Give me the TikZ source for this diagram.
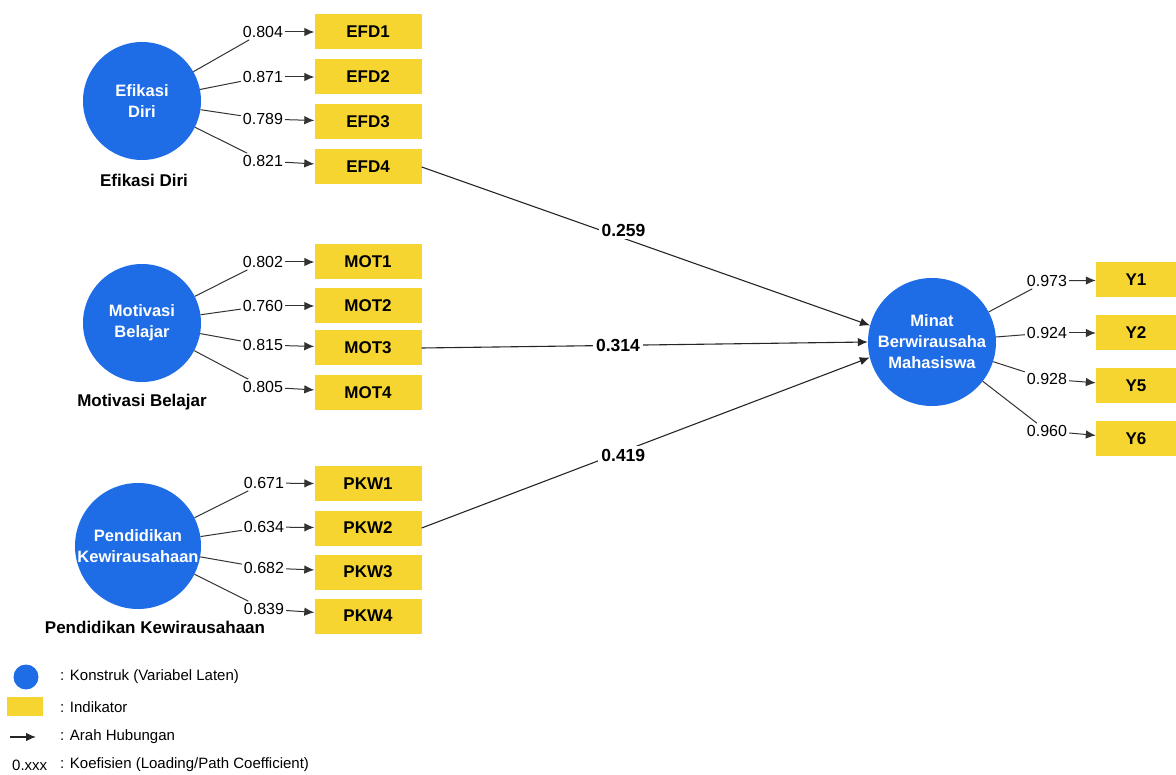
\documentclass[tikz,border=0pt]{standalone}
\usepackage{fontspec}
\setmainfont{Liberation Sans}
\usetikzlibrary{arrows.meta}
\definecolor{construct}{RGB}{30,108,230}
\definecolor{indicator}{RGB}{247,213,48}

\begin{document}
\begin{tikzpicture}[x=1pt,y=-1pt]
		\useasboundingbox[fill=white] (0,0) rectangle (1176,775);

		\begin{scope}[every node/.style={circle,fill=construct,text=white,align=center,inner sep=0pt,
		              font=\bfseries\fontsize{16.5}{21}\selectfont}]
			\node[minimum size=118pt] (efd) at (142,101) {Efikasi\\Diri};
			\node[minimum size=118pt] (mot) at (142,323) {Motivasi\\Belajar};
			\node[minimum size=126pt] (pkw) at (138,546) {Pendidikan\\Kewirausahaan};
			\node[minimum size=128pt] (minat) at (932,342) {Minat\\Berwirausaha\\Mahasiswa};
		\end{scope}

		\begin{scope}[every node/.style={rectangle,fill=indicator,minimum width=107pt,minimum height=35pt,
		              inner sep=0pt,font=\bfseries\fontsize{17}{20}\selectfont}]
			\node (EFD1) at (368,32) {EFD1};
			\node (EFD2) at (368,77) {EFD2};
			\node (EFD3) at (368,122) {EFD3};
			\node (EFD4) at (368,167) {EFD4};
			\node (MOT1) at (368,262) {MOT1};
			\node (MOT2) at (368,306) {MOT2};
			\node (MOT3) at (368,348) {MOT3};
			\node (MOT4) at (368,393) {MOT4};
			\node (PKW1) at (368,484) {PKW1};
			\node (PKW2) at (368,528) {PKW2};
			\node (PKW3) at (368,572) {PKW3};
			\node (PKW4) at (368,616) {PKW4};
			\node[minimum width=80pt] (Y1) at (1136,280) {Y1};
			\node[minimum width=80pt] (Y2) at (1136,333) {Y2};
			\node[minimum width=80pt] (Y5) at (1136,386) {Y5};
			\node[minimum width=80pt] (Y6) at (1136,439) {Y6};
		\end{scope}

		\begin{scope}[every node/.style={inner sep=2pt,font=\fontsize{16}{19}\selectfont}]
			\node (e1) at (263,32) {0.804};
			\node (e2) at (263,77) {0.871};
			\node (e3) at (263,119) {0.789};
			\node (e4) at (263,161) {0.821};
			\node (m1) at (263,262) {0.802};
			\node (m2) at (263,306) {0.760};
			\node (m3) at (263,345) {0.815};
			\node (m4) at (263,387) {0.805};
			\node (p1) at (264,483) {0.671};
			\node (p2) at (264,527) {0.634};
			\node (p3) at (264,568) {0.682};
			\node (p4) at (264,609) {0.839};
			\node (y1) at (1047,281) {0.973};
			\node (y2) at (1047,333) {0.924};
			\node (y5) at (1047,379) {0.928};
			\node (y6) at (1047,431) {0.960};
		\end{scope}

		\begin{scope}[every node/.style={font=\bfseries\fontsize{17}{20}\selectfont}]
			\node (efdname) at (144,180) {Efikasi Diri};
			\node (motname) at (142,402) {Motivasi Belajar};
			\node (pkwname) at (155,627) {Pendidikan Kewirausahaan};
		\end{scope}

		\begin{scope}[>={Latex[length=10pt,width=8.5pt]},
		              every edge/.style={draw=black!80,line width=1pt}]
			\path (efd) edge (e1);  \path (e1) edge[->] (EFD1);
			\path (efd) edge (e2);  \path (e2) edge[->] (EFD2);
			\path (efd) edge (e3);  \path (e3) edge[->] (EFD3);
			\path (efd) edge (e4);  \path (e4) edge[->] (EFD4);
			\path (mot) edge (m1);  \path (m1) edge[->] (MOT1);
			\path (mot) edge (m2);  \path (m2) edge[->] (MOT2);
			\path (mot) edge (m3);  \path (m3) edge[->] (MOT3);
			\path (mot) edge (m4);  \path (m4) edge[->] (MOT4);
			\path (pkw) edge (p1);  \path (p1) edge[->] (PKW1);
			\path (pkw) edge (p2);  \path (p2) edge[->] (PKW2);
			\path (pkw) edge (p3);  \path (p3) edge[->] (PKW3);
			\path (pkw) edge (p4);  \path (p4) edge[->] (PKW4);
			\path (minat) edge (y1);  \path (y1) edge[->] (Y1);
			\path (minat) edge (y2);  \path (y2) edge[->] (Y2);
			\path (minat) edge (y5);  \path (y5) edge[->] (Y5);
			\path (minat) edge (y6);  \path (y6) edge[->] (Y6);
		\end{scope}

		\begin{scope}[>={Latex[length=10pt,width=8.5pt]},
		              every node/.style={fill=white,inner sep=3pt,font=\bfseries\fontsize{17.5}{20}\selectfont},
		              every edge/.style={draw=black!85,line width=1.1pt}]
			\path (EFD4.east) edge[->] node[pos=0.45,yshift=8pt] {0.259} (minat.165);
			\path (MOT3.east) edge[->] node[pos=0.44] {0.314} (minat.west);
			\path (PKW2.east) edge[->] node[pos=0.45,yshift=-4pt] {0.419} (minat.194);
		\end{scope}

		% legend
		\node[circle,fill=construct,minimum size=25pt,inner sep=0pt] (lcirc) at (26,677) {};
		\node[fill=indicator,minimum width=36pt,minimum height=19pt,inner sep=0pt] (lbox) at (25,706) {};
		\coordinate (larr1) at (10,737);
		\coordinate (larr2) at (36,737);
		\path[draw=black!85,line width=1.1pt,-{Latex[length=10pt,width=8.5pt]}] (larr1) -- (larr2);
		\begin{scope}[every node/.style={anchor=west,inner sep=0pt,font=\fontsize{15}{18}\selectfont}]
			\node (lkoef) at (12,765) {0.xxx};
			\node (tcirc) at (60,677) {: Konstruk (Variabel Laten)};
			\node (tbox) at (60,707) {: Indikator};
			\node (tarr) at (60,737) {: Arah Hubungan};
			\node (tkoef) at (60,765) {: Koefisien (Loading/Path Coefficient)};
		\end{scope}
\end{tikzpicture}
\end{document}
